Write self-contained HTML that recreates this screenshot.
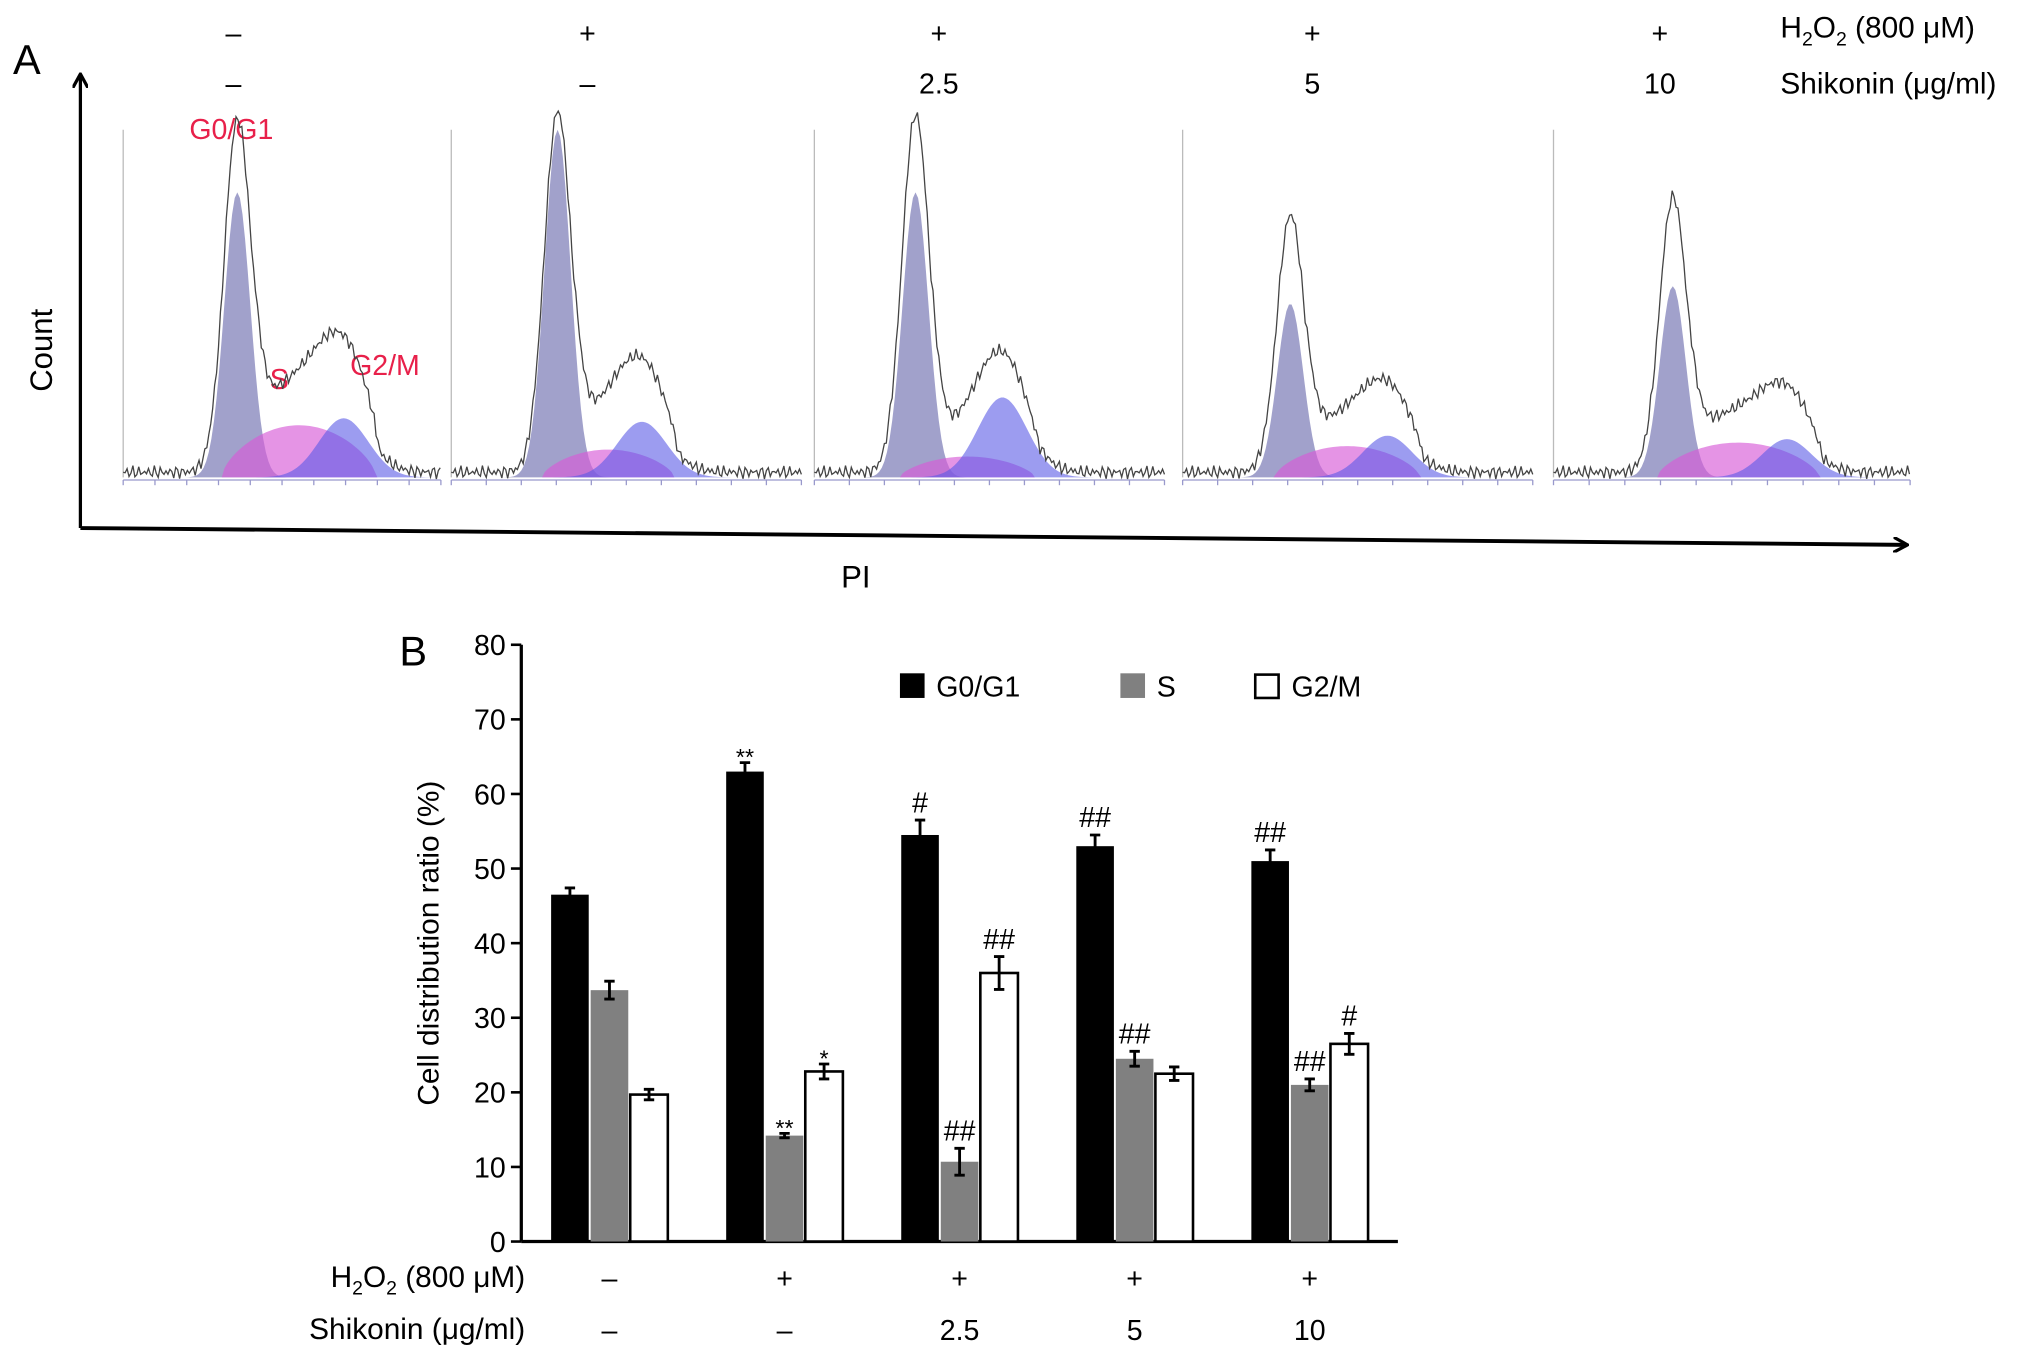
<!DOCTYPE html>
<html><head><meta charset="utf-8"><style>
html,body{margin:0;padding:0;background:#fff;}
svg{display:block;font-family:"Liberation Sans",Arial,sans-serif;}
</style></head><body>
<svg id="fig" width="2032" height="1357" viewBox="0 0 1567 1046" preserveAspectRatio="none">
<defs><marker id="ah" markerWidth="12" markerHeight="12" refX="10" refY="6" orient="auto" markerUnits="userSpaceOnUse"><path d="M0,0 L11,6 L0,12" fill="none" stroke="#000" stroke-width="2.5"/></marker></defs>
<g id="panelA">
<text x="10" y="57" font-size="32">A</text>
<line x1="62" y1="407" x2="62" y2="58" stroke="#000" stroke-width="2.5" marker-end="url(#ah)"/>
<line x1="62" y1="407" x2="1470" y2="420" stroke="#000" stroke-width="3" marker-end="url(#ah)"/>
<text x="40" y="270" font-size="24" transform="rotate(-90 40 270)" text-anchor="middle">Count</text>
<text x="660" y="453" font-size="24" text-anchor="middle">PI</text>
<text x="1373" y="29" font-size="23">H<tspan font-size="15" dy="6">2</tspan><tspan dy="-6">O</tspan><tspan font-size="15" dy="6">2</tspan><tspan dy="-6"> (800 μM)</tspan></text>
<text x="1373" y="72" font-size="23">Shikonin (μg/ml)</text>
<text x="146" y="107" font-size="22" fill="#e8204a">G0/G1</text>
<text x="208" y="300" font-size="22" fill="#e8204a">S</text>
<text x="270" y="289" font-size="22" fill="#e8204a">G2/M</text>
</g>
<g id="panelB">
<text x="308" y="513" font-size="32">B</text>
<text x="338" y="727" font-size="23" transform="rotate(-90 338 727)" text-anchor="middle">Cell distribution ratio (%)</text>
<text x="405" y="992" font-size="23" text-anchor="end">H<tspan font-size="15" dy="6">2</tspan><tspan dy="-6">O</tspan><tspan font-size="15" dy="6">2</tspan><tspan dy="-6"> (800 μM)</tspan></text>
<text x="405" y="1032" font-size="23" text-anchor="end">Shikonin (μg/ml)</text>
<g>
<rect x="694" y="519" width="19" height="19" fill="#000"/>
<text x="722" y="537" font-size="22">G0/G1</text>
<rect x="864" y="519" width="19" height="19" fill="#808080"/>
<text x="892" y="537" font-size="22">S</text>
<rect x="968" y="520" width="18" height="18" fill="#fff" stroke="#000" stroke-width="2"/>
<text x="996" y="537" font-size="22">G2/M</text>
</g>
</g>
</svg>
<script>
const groups = ["ctrl","h2o2","shk2.5","shk5","shk10"];
const h2o2Row = ["–","+","+","+","+"];
const shkRow = ["–","–","2.5","5","10"];
const g0g1 = [46.5,63,54.5,53,51];
const sPhase = [33.7,14.2,10.7,24.5,21];
const g2m = [19.7,22.8,36,22.5,26.5];
const g0g1Err = [0.9,1.2,2,1.5,1.5];
const sErr = [1.2,0.3,1.8,1,0.8];
const g2mErr = [0.7,1,2.2,0.9,1.4];
const g0g1Sig = ["","**","#","##","##"];
const sSig = ["","**","##","##","##"];
const g2mSig = ["","*","##","","#"];
const yTicks = [0,10,20,30,40,50,60,70,80];
const g1Pos = [88,82,78,83,92];
const g1H = [82,100,82,50,55];
const g1Trace = [95,100,100,70,75];
const g2Pos = [170,147,145,158,180];
const g2H = [17,16,23,12,11];
const sH = [15,8,6,9,10];
const midBump = [14,12,8,9,9];

const NS="http://www.w3.org/2000/svg";
const svg=document.getElementById('fig');
function mk(tag,attrs,parent){const e=document.createElementNS(NS,tag);for(const k in attrs)e.setAttribute(k,attrs[k]);(parent||svg).appendChild(e);return e;}

const x0=402,x1=1078,yb=957,yt=497;
const yS=v=>yb-(v/80)*(yb-yt);
const gc=i=>470+i*135;
const bw=29;
const axB=mk('g',{});


let l=mk('line',{x1:x0,y1:yt,x2:x0,y2:yb,stroke:'#000','stroke-width':2.5},axB);


l=mk('line',{x1:x0,y1:yb,x2:x1,y2:yb,stroke:'#000','stroke-width':2.5},axB);


yTicks.forEach(t=>{
  const tl=mk('line',{x1:x0-8,y1:yS(t),x2:x0,y2:yS(t),stroke:'#000','stroke-width':2},axB);
  
  
  const tx=mk('text',{x:x0-12,y:yS(t)+8,'font-size':22,'text-anchor':'end'},axB);
  tx.textContent=t;
  
  
});
const series=[[g0g1,g0g1Err,g0g1Sig,'#000','g0g1',-1],[sPhase,sErr,sSig,'#808080','s',0],[g2m,g2mErr,g2mSig,'#fff','g2m',1]];
series.forEach(([vals,errs,sig,fill,nm,off])=>{
  vals.forEach((v,i)=>{
    const cx=gc(i)+off*(bw+1.5);
    const r=mk('rect',{x:cx-bw/2,y:yS(v),width:bw,height:yb-yS(v),fill:fill,stroke:fill==='#fff'?'#000':'none','stroke-width':2});
    
    
    const e=errs[i];
    const eb=mk('path',{d:`M${cx},${yS(v+e)}V${yS(v-e)}M${cx-4},${yS(v+e)}H${cx+4}M${cx-4},${yS(v-e)}H${cx+4}`,stroke:'#000','stroke-width':2.2,fill:'none'});
    
    
    if(sig[i]){
      const st=sig[i].includes('*');
      const t=mk('text',{x:cx,y:yS(v+e)-(st?-2:6),'font-size':st?18:22,'text-anchor':'middle'});
      t.textContent=sig[i];
      
      
    }
  });
});
groups.forEach((g,i)=>{
  let t=mk('text',{x:gc(i),y:993,'font-size':22,'text-anchor':'middle'});t.textContent=h2o2Row[i];
  
  
  t=mk('text',{x:gc(i),y:1033,'font-size':22,'text-anchor':'middle'});t.textContent=shkRow[i];
  
  
  const hx=[180,453,724,1012,1280][i];
  t=mk('text',{x:hx,y:33,'font-size':22,'text-anchor':'middle'});t.textContent=h2o2Row[i];
  
  
  t=mk('text',{x:hx,y:72,'font-size':22,'text-anchor':'middle'});t.textContent=shkRow[i];
  
  
});

const px=[95,348,628,912,1198], pw=[245,270,270,270,275], hBase=368, hTop=100;
groups.forEach((g,i)=>{
  const G=mk('g',{});
  
  
  const L=px[i];
  const hy=c=>hBase-c/100*(hBase-hTop);
  mk('line',{x1:L,y1:hTop,x2:L,y2:hBase,stroke:'#bbb','stroke-width':1},G);
  mk('line',{x1:L,y1:hBase+2,x2:L+pw[i],y2:hBase+2,stroke:'#99c','stroke-width':1},G);
  for(let k=0;k<=10;k++) mk('line',{x1:L+k*pw[i]/10,y1:hBase+2,x2:L+k*pw[i]/10,y2:hBase+6,stroke:'#99c','stroke-width':1},G);
  const p1=g1Pos[i],p2=g2Pos[i];
  const f1=x=>g1H[i]*Math.exp(-((x-p1)**2)/(2*10*10));
  const t1=x=>g1Trace[i]*Math.exp(-((x-p1)**2)/(2*10.5*10.5));
  const f2=x=>g2H[i]*Math.exp(-((x-p2)**2)/(2*19*19));
  const sa=p1-12, sb=p2+25;
  const fs=x=>{if(x<sa||x>sb)return 0;const u=(x-sa)/(sb-sa);return sH[i]*Math.pow(Math.sin(Math.PI*u),0.6);};
  const bump=x=>{const a=p1+12,b=p2+28;if(x<a||x>b)return 0;const u=(x-a)/(b-a);return midBump[i]*Math.pow(Math.sin(Math.PI*u),0.5);};
  const area=(f,col,nm)=>{let d=`M${L},${hBase}`;for(let x=0;x<=pw[i];x+=2)d+=`L${L+x},${hy(f(x))}`;d+=`L${L+pw[i]},${hBase}Z`;const a=mk('path',{d:d,fill:col},G);};
  area(f1,'rgba(110,110,175,0.65)','g1-fit');
  area(fs,'rgba(215,90,215,0.65)','s-fit');
  area(f2,'rgba(90,90,230,0.6)','g2m-fit');
  let d='';for(let x=0;x<=pw[i];x+=1.5){const v=Math.max(t1(x),f1(x))+f2(x)+fs(x)*0.9+bump(x)+1.5+1.2*Math.sin(x*2.7)+0.8*Math.sin(x*5.3);d+=(x?'L':'M')+(L+x)+','+hy(v);}
  const ln=mk('path',{d:d,fill:'none',stroke:'#444','stroke-width':1},G);
  
  
});
</script>
</body></html>
